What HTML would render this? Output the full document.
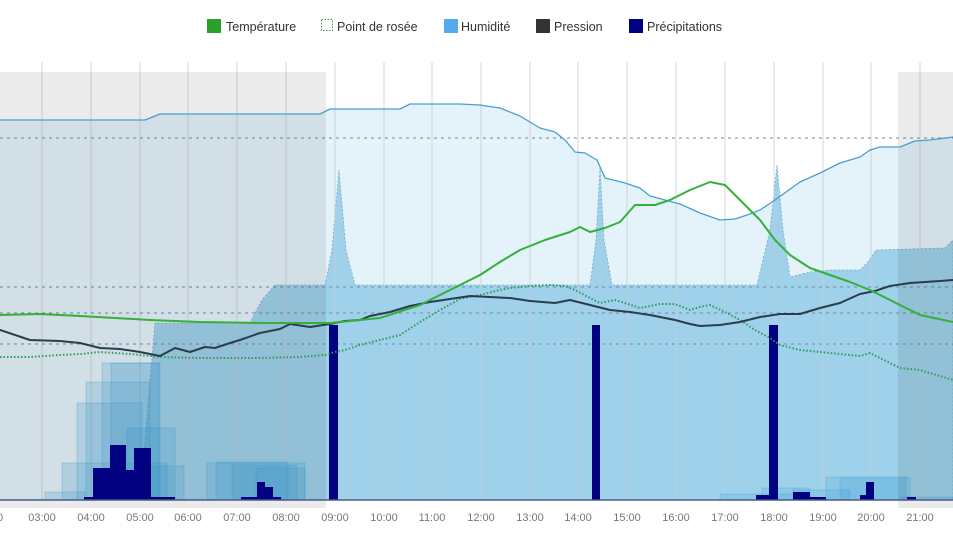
<!DOCTYPE html>
<html><head><meta charset="utf-8"><style>
html,body{margin:0;padding:0;background:#fff;width:953px;height:536px;overflow:hidden}
svg{display:block;font-family:"Liberation Sans",sans-serif}
</style></head><body>
<svg width="953" height="536" viewBox="0 0 953 536">
<g font-size="12.5" fill="#333">
<rect x="207" y="19" width="14" height="14" fill="#2ca02c"/><text x="226" y="31">Température</text>
<rect x="321.5" y="19.5" width="11" height="11" fill="none" stroke="#3a9a4a" stroke-dasharray="1.5,1.5"/><text x="337" y="31">Point de rosée</text>
<rect x="444" y="19" width="14" height="14" fill="#55aaee"/><text x="461" y="31">Humidité</text>
<rect x="536" y="19" width="14" height="14" fill="#333"/><text x="554" y="31">Pression</text>
<rect x="629" y="19" width="14" height="14" fill="#000080"/><text x="647" y="31">Précipitations</text>
</g>
<path d="M0,120 L145,120 L160,114 L320,114 L330,109 L400,109 L410,104 L460,104 L480,105 L500,108 L520,116 L540,128 L555,132 L565,140 L575,152 L585,153 L597,160 L605,178 L625,183 L640,188 L650,196 L665,200 L680,204 L700,213 L720,220 L735,219 L750,214 L760,210 L775,200 L800,182 L820,173 L840,163 L860,157 L870,150 L880,147 L900,147 L915,141 L930,140 L953,137 L953,500 L0,500Z" fill="#e4f2fa"/>
<path d="M140,500 L155,323 L250,323 L262,300 L275,285 L325,285 L332,250 L339,170 L346,250 L355,285 L590,285 L596,240 L600,168 L604,240 L612,285 L757,285 L770,230 L777,165 L783,230 L790,277 L810,272 L830,270 L860,270 L868,262 L876,250 L945,248 L953,240 L953,500Z" fill="#9fd1ea" stroke="#7aa8c0" stroke-width="0.8" stroke-dasharray="2,2"/>
<g stroke="#c4ced4" stroke-width="1" opacity="0.75">
<line x1="42" y1="62" x2="42" y2="500"/><line x1="91" y1="62" x2="91" y2="500"/><line x1="140" y1="62" x2="140" y2="500"/><line x1="188" y1="62" x2="188" y2="500"/><line x1="237" y1="62" x2="237" y2="500"/><line x1="286" y1="62" x2="286" y2="500"/><line x1="335" y1="62" x2="335" y2="500"/><line x1="384" y1="62" x2="384" y2="500"/><line x1="432" y1="62" x2="432" y2="500"/><line x1="481" y1="62" x2="481" y2="500"/><line x1="530" y1="62" x2="530" y2="500"/><line x1="578" y1="62" x2="578" y2="500"/><line x1="627" y1="62" x2="627" y2="500"/><line x1="676" y1="62" x2="676" y2="500"/><line x1="725" y1="62" x2="725" y2="500"/><line x1="774" y1="62" x2="774" y2="500"/><line x1="823" y1="62" x2="823" y2="500"/><line x1="871" y1="62" x2="871" y2="500"/><line x1="920" y1="62" x2="920" y2="500"/>
</g>
<g stroke="#6a8ea8" stroke-width="1" stroke-dasharray="3,4">
<line x1="0" y1="138" x2="953" y2="138"/><line x1="0" y1="287" x2="953" y2="287"/><line x1="0" y1="313" x2="953" y2="313"/><line x1="0" y1="344" x2="953" y2="344"/>
</g>
<g fill="#3aa0d8" fill-opacity="0.2" stroke="#3aa0d8" stroke-opacity="0.3">
<rect x="45" y="492" width="40" height="8"/><rect x="62" y="463" width="105" height="37"/><rect x="77" y="403" width="65" height="97"/><rect x="86" y="382" width="64" height="118"/><rect x="102" y="363" width="58" height="137"/><rect x="111" y="363" width="48" height="137"/><rect x="127" y="428" width="48" height="72"/><rect x="150" y="466" width="34" height="34"/>
<rect x="207" y="463" width="98" height="37"/><rect x="216" y="462" width="72" height="38"/><rect x="232" y="465" width="65" height="35"/><rect x="256" y="468" width="49" height="32"/>
<rect x="720" y="494" width="90" height="6"/><rect x="762" y="488" width="48" height="12"/><rect x="793" y="490" width="57" height="10"/><rect x="826" y="477" width="80" height="23"/><rect x="840" y="478" width="70" height="22"/><rect x="900" y="497" width="53" height="3"/>
</g>
<rect x="0" y="72" width="326" height="436" fill="#000" fill-opacity="0.08"/>
<rect x="898" y="72" width="55" height="436" fill="#000" fill-opacity="0.08"/>
<g fill="#000080">
<rect x="329" y="325" width="9" height="175"/><rect x="592" y="325" width="8" height="175"/><rect x="769" y="325" width="9" height="175"/>
<rect x="93" y="468" width="17" height="32"/><rect x="110" y="445" width="16" height="55"/><rect x="126" y="470" width="8" height="30"/><rect x="134" y="448" width="17" height="52"/><rect x="151" y="497" width="24" height="3"/><rect x="84" y="497" width="9" height="3"/>
<rect x="241" y="497" width="16" height="3"/><rect x="257" y="482" width="8" height="18"/><rect x="265" y="487" width="8" height="13"/><rect x="273" y="497" width="8" height="3"/>
<rect x="756" y="495" width="13" height="5"/><rect x="793" y="492" width="17" height="8"/><rect x="810" y="497" width="16" height="3"/><rect x="860" y="495" width="6" height="5"/><rect x="866" y="482" width="8" height="18"/><rect x="907" y="497" width="9" height="3"/>
</g>
<line x1="0" y1="500" x2="953" y2="500" stroke="#4b5a8a" stroke-width="1.5"/>
<g fill="none" stroke-linejoin="round" stroke-linecap="round">
<polyline stroke="#4a9fcc" stroke-width="1.3" points="0,120 145,120 160,114 320,114 330,109 400,109 410,104 460,104 480,105 500,108 520,116 540,128 555,132 565,140 575,152 585,153 597,160 605,178 625,183 640,188 650,196 665,200 680,204 700,213 720,220 735,219 750,214 760,210 775,200 800,182 820,173 840,163 860,157 870,150 880,147 900,147 915,141 930,140 953,137"/>
<polyline stroke="#2f9a5a" stroke-width="2" stroke-linecap="butt" stroke-dasharray="1.5,2" points="0,357 30,357 60,355 80,354 100,352 130,354 160,357 200,358 260,358 300,357 325,355 335,352 345,350 360,345 380,340 400,335 420,322 440,310 460,299 480,295 500,290 510,288 530,286 550,285 565,286 575,290 590,298 600,303 615,300 625,303 640,308 660,304 675,304 690,310 700,307 710,305 725,312 740,320 755,330 770,338 780,345 800,350 820,352 840,354 860,356 870,353 880,358 900,368 920,370 953,380"/>
<polyline stroke="#2a3d4c" stroke-width="2" points="0,330 30,340 60,341 80,343 100,348 120,349 140,352 160,356 175,348 190,352 205,347 215,348 230,343 240,340 260,333 280,329 290,324 310,327 330,324 345,321 360,320 370,316 390,312 410,306 430,302 450,299 470,296 490,297 510,298 530,301 555,303 570,300 590,305 610,310 630,312 650,315 675,320 690,324 700,326 720,325 740,322 760,317 780,314 800,314 820,308 840,303 860,294 875,291 890,286 910,283 940,281 953,280"/>
<polyline stroke="#34b03a" stroke-width="2" points="0,315 40,314 80,316 150,320 200,322 260,323 330,323 380,318 420,305 450,290 480,275 500,262 520,250 545,240 570,232 580,227 590,232 605,228 620,222 635,205 655,205 670,200 690,190 710,182 725,185 740,200 760,220 775,240 790,255 810,268 830,275 850,282 870,290 900,305 920,315 953,322"/>
</g>
<g font-size="11" fill="#777" text-anchor="middle">
<text x="0" y="521">0</text><text x="42" y="521">03:00</text><text x="91" y="521">04:00</text><text x="140" y="521">05:00</text><text x="188" y="521">06:00</text><text x="237" y="521">07:00</text><text x="286" y="521">08:00</text><text x="335" y="521">09:00</text><text x="384" y="521">10:00</text><text x="432" y="521">11:00</text><text x="481" y="521">12:00</text><text x="530" y="521">13:00</text><text x="578" y="521">14:00</text><text x="627" y="521">15:00</text><text x="676" y="521">16:00</text><text x="725" y="521">17:00</text><text x="774" y="521">18:00</text><text x="823" y="521">19:00</text><text x="871" y="521">20:00</text><text x="920" y="521">21:00</text>
</g>
</svg>
</body></html>
